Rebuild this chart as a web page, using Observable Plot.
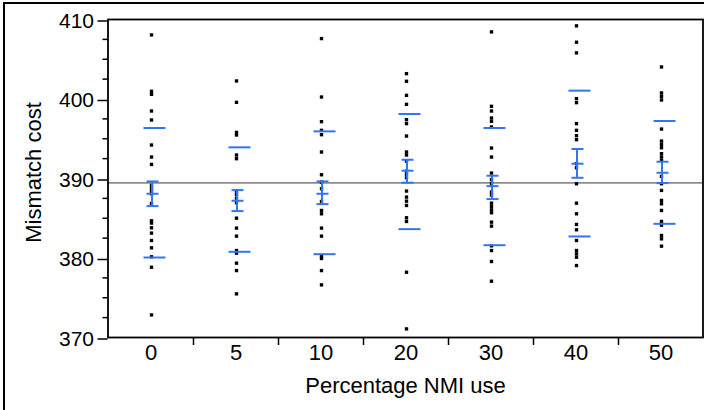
<!DOCTYPE html>
<html>
<head>
<meta charset="utf-8">
<script src="https://cdn.jsdelivr.net/npm/d3@7"></script>
<script src="https://cdn.jsdelivr.net/npm/@observablehq/plot@0.6"></script>
<style>
  html, body { margin: 0; padding: 0; background: #fff; }
  #wrap { position: relative; width: 704px; height: 410px; overflow: hidden; font-family: "Liberation Sans", Arial, sans-serif; }
  #border { position: absolute; left: 3px; top: 2px; width: 720px; height: 430px; border: 2px solid #000; box-sizing: border-box; pointer-events: none; }
  svg { position: absolute; left: 0; top: 0; }
</style>
</head>
<body>
<div id="wrap"><div id="border"></div></div>
<script>
// Categories (Percentage NMI use)
const categories = ["0", "5", "10", "20", "30", "40", "50"];

// Individual observations (Mismatch cost) per category
const values0 = [408.06, 400.97, 400.59, 398.49, 397.36, 394.21, 392.70, 391.77, 389.13, 388.79, 388.46, 388.08, 386.86, 384.68, 384.39, 383.80, 383.13, 382.20, 381.28, 380.15, 378.84, 372.84];
const values5 = [402.27, 399.58, 395.80, 395.47, 392.95, 392.49, 388.42, 388.00, 387.53, 386.95, 385.01, 383.76, 382.75, 380.94, 380.61, 379.35, 378.42, 375.49];
const values10 = [407.60, 400.25, 397.15, 396.06, 395.51, 393.33, 390.47, 389.55, 388.71, 387.11, 385.98, 385.56, 383.76, 382.75, 380.23, 379.94, 378.42, 376.62];
const values20 = [403.19, 402.23, 400.46, 399.33, 397.40, 396.90, 395.34, 393.33, 392.95, 392.19, 390.93, 390.51, 390.09, 388.42, 387.66, 387.15, 386.61, 385.06, 384.60, 378.21, 371.08];
const values30 = [408.44, 399.08, 398.49, 397.61, 397.19, 396.48, 393.83, 392.70, 390.68, 389.84, 389.34, 388.29, 387.91, 386.90, 386.48, 386.06, 385.69, 384.51, 384.01, 381.53, 380.94, 379.56, 377.08];
const values40 = [409.20, 407.14, 405.80, 400.04, 399.54, 396.90, 396.06, 395.39, 394.88, 391.86, 391.35, 389.34, 386.90, 385.56, 384.22, 383.55, 382.20, 380.94, 380.52, 380.10, 379.05];
const values50 = [404.03, 400.76, 400.34, 399.88, 396.22, 394.71, 394.29, 393.87, 393.12, 392.70, 392.28, 390.26, 389.34, 388.50, 387.24, 386.82, 385.98, 384.60, 384.13, 382.83, 382.41, 381.49];

// Summary lines
const means = [388.08, 387.20, 388.08, 390.98, 389.04, 391.86, 390.72];
const sdHigh = [396.35, 393.92, 395.93, 398.11, 396.35, 401.05, 397.23];
const sdLow = [380.06, 380.78, 380.48, 383.63, 381.61, 382.71, 384.30];
const seHigh = [389.63, 388.54, 389.63, 392.36, 390.35, 393.71, 392.11];
const seLow = [386.53, 385.90, 386.78, 389.47, 387.41, 390.09, 389.42];
const grandMean = [389.45];

// Axis ticks
const yMajorTicks = [370, 380, 390, 400, 410];
const yMinorTicks = [372.5, 375, 377.5, 382.5, 385, 387.5, 392.5, 395, 397.5, 402.5, 405, 407.5];

const groups = [values0, values5, values10, values20, values30, values40, values50];
const points = groups.flatMap((vals, i) => vals.map(v => ({cat: categories[i], v})));
const stats = categories.map((c, i) => ({cat: c, mean: means[i], sdHi: sdHigh[i], sdLo: sdLow[i], seHi: seHigh[i], seLo: seLow[i]}));

const blue = "#3274f2";
const marginLeft = 107.5, marginRight = 1.5, width = 704;
const bw = (width - marginLeft - marginRight) / categories.length;

const chart = Plot.plot({
  width: 704,
  height: 410,
  marginLeft,
  marginRight,
  marginTop: 19,
  marginBottom: 73,
  style: {fontFamily: "'Liberation Sans', Arial, sans-serif", background: "transparent", color: "#000"},
  x: {type: "band", domain: categories, padding: 0},
  y: {domain: [370, 410]},
  marks: [
    Plot.ruleY(grandMean, {stroke: "#8c8c8c", strokeWidth: 1.6}),
    Plot.dot(points, {x: "cat", y: "v", symbol: "square", r: 1.9, fill: "#000", stroke: "none", dx: 0.5}),
    Plot.tickY(stats, {x: "cat", y: "sdHi", stroke: blue, strokeWidth: 2, insetLeft: 35.5, insetRight: 27.5}),
    Plot.tickY(stats, {x: "cat", y: "sdLo", stroke: blue, strokeWidth: 2, insetLeft: 35.5, insetRight: 27.5}),
    Plot.tickY(stats, {x: "cat", y: "mean", stroke: blue, strokeWidth: 2, insetLeft: 38.5, insetRight: 34.5}),
    Plot.tickY(stats, {x: "cat", y: "seHi", stroke: blue, strokeWidth: 2, insetLeft: 38.5, insetRight: 34.5}),
    Plot.tickY(stats, {x: "cat", y: "seLo", stroke: blue, strokeWidth: 2, insetLeft: 38.5, insetRight: 34.5}),
    Plot.ruleX(stats, {x: "cat", y1: "seLo", y2: "seHi", stroke: blue, strokeWidth: 2, dx: 1}),
    Plot.frame({stroke: "#000", strokeWidth: 1.8}),
    Plot.axisY({ticks: yMajorTicks, tickSize: 10, tickPadding: 4, fontSize: 21, dy: 1.5, label: null, strokeWidth: 1.5}),
    Plot.axisY({ticks: yMinorTicks, tickSize: 5, text: null, label: null, strokeWidth: 1.5}),
    Plot.axisX({ticks: categories.slice(1), tickSize: 8, text: null, label: null, dx: -bw / 2, strokeWidth: 1.5}),
    Plot.axisX({tickSize: 0, tickPadding: 7, fontSize: 22, label: null}),
    Plot.text(["Percentage NMI use"], {frameAnchor: "bottom", dy: 48, fontSize: 22, textAnchor: "middle", lineAnchor: "middle"}),
    Plot.text(["Mismatch cost"], {frameAnchor: "left", dx: -74, dy: -6, rotate: -90, fontSize: 22, textAnchor: "middle", lineAnchor: "middle"})
  ]
});
document.getElementById("wrap").appendChild(chart);
</script>
</body>
</html>
